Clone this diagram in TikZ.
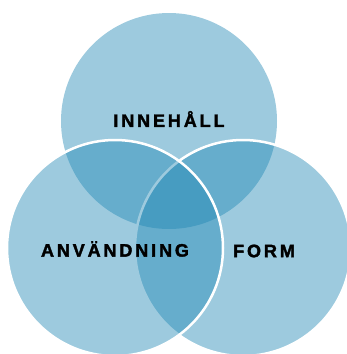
\documentclass[tikz,border=0pt]{standalone}
\usepackage{fontspec}
\setmainfont{Liberation Sans}
\newfontfamily\vennfont[LetterSpace=16,BoldFeatures={FakeBold=2}]{Liberation Sans}
\usepackage{tikz,xcolor}
\definecolor{vennblue}{RGB}{32,135,180}

\begin{document}
\begin{tikzpicture}[x=1pt,y=-1pt,
	every node/.style={inner sep=0pt,outer sep=0pt},
	set/.style={shape=circle,minimum size=216pt,fill=vennblue,fill opacity=0.44},
	setrim/.style={set,draw=white,line width=2.5pt},
	setname/.style={font=\vennfont\bfseries\fontsize{18}{20}\selectfont,text=black}]
	\useasboundingbox (0,0) rectangle (347,354);
	% create the circles
	\node (content)[set] at (169,121) {};
	\node (form)[setrim] at (243,248) {};
	\node (use)[setrim] at (115,248) {};

	% add the labels
	\node (contentname)[setname] at (169,119) {INNEHÅLL};
	\node (usename)[setname] at (115,249) {ANVÄNDNING};
	\node (formname)[setname] at (264,251) {FORM};
\end{tikzpicture}
\end{document}
